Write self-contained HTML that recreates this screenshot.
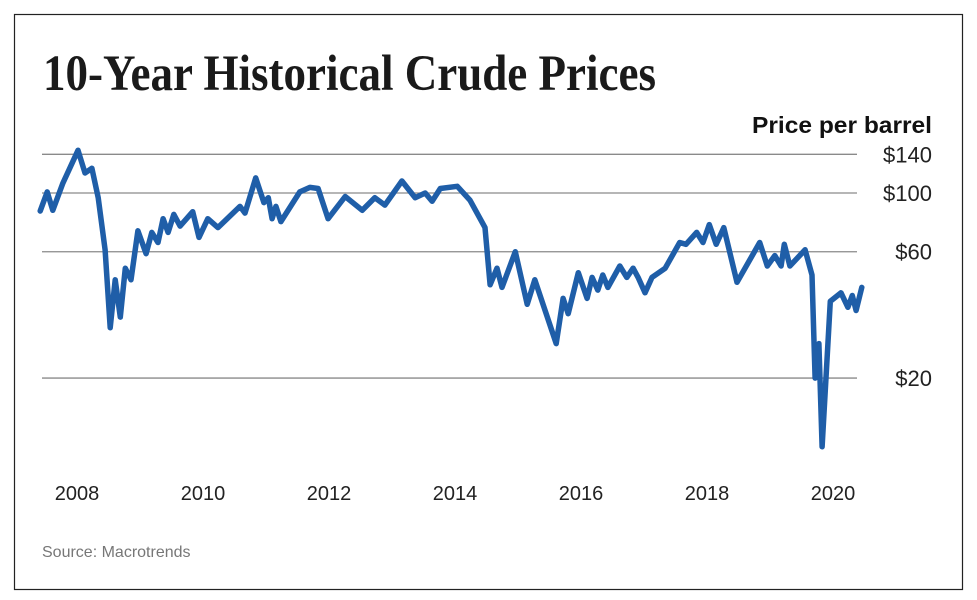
<!DOCTYPE html>
<html><head><meta charset="utf-8"><style>
html,body{margin:0;padding:0;background:#fff;}
svg{display:block;}
text{font-family:"Liberation Sans",sans-serif;}
</style></head><body>
<svg id="chart" width="977" height="600" viewBox="0 0 977 600">
<rect x="14.5" y="14.5" width="948" height="575" fill="#fff" stroke="#222" stroke-width="1.2"/>
<text x="43" y="90" font-weight="bold" font-size="51" fill="#1a1a1a" textLength="613" lengthAdjust="spacingAndGlyphs" style="font-family:'Liberation Serif',serif">10-Year Historical Crude Prices</text>
<text x="932" y="133" text-anchor="end" font-weight="bold" font-size="23" fill="#111" textLength="180" lengthAdjust="spacingAndGlyphs">Price per barrel</text>
<g id="grid"></g>
<g id="xlabels"></g>
<path id="line" fill="none" stroke="#1f5ea8" stroke-width="5.5" stroke-linejoin="round" stroke-linecap="round"/>
<text x="42" y="557" font-size="16" fill="#777">Source: Macrotrends</text>
</svg>
<script>
const yTicks = [140, 100, 60, 20];
const yTickLabels = ["$140", "$100", "$60", "$20"];
const xTicks = [2008, 2010, 2012, 2014, 2016, 2018, 2020];
const years = [2007.48,2007.59,2007.68,2007.84,2008.08,2008.19,2008.30,2008.40,2008.51,2008.59,2008.67,2008.75,2008.83,2008.92,2009.03,2009.16,2009.25,2009.35,2009.43,2009.51,2009.60,2009.70,2009.90,2010.00,2010.14,2010.30,2010.65,2010.73,2010.90,2011.03,2011.10,2011.16,2011.22,2011.30,2011.60,2011.76,2011.89,2012.05,2012.32,2012.59,2012.79,2012.95,2013.22,2013.43,2013.59,2013.70,2013.83,2014.10,2014.30,2014.54,2014.62,2014.73,2014.81,2015.02,2015.21,2015.33,2015.67,2015.78,2015.86,2016.02,2016.16,2016.24,2016.33,2016.41,2016.49,2016.68,2016.79,2016.89,2016.97,2017.08,2017.19,2017.40,2017.63,2017.73,2017.90,2018.00,2018.10,2018.21,2018.33,2018.54,2018.90,2019.02,2019.14,2019.24,2019.29,2019.38,2019.62,2019.73,2019.78,2019.84,2019.89,2020.02,2020.19,2020.30,2020.37,2020.43,2020.52];
const prices = [85.5,101,86,109,145,119,124,96,61,31,47,34,52,47,72,59,71,65,80,71,83,75,85,68,80,74,89,84,114,92,96,80,89,78,101,105,104,80,97,86,96,90,111,96,100,93,104,106,94,74,45,52,44,60,38,47,27,40,35,50,40,48,43,49,44,53,48,52,48,42,48,52,65,64,71,65,76,64,74,46,65,53,58,53,64,53,61,49,20,27,11,39,42,37,41,36,44];
const NS = "http://www.w3.org/2000/svg";
function xScale(t){ return 73 + (t - 2008) * 63; }
function yScale(v){ return 193 + (Math.log(100) - Math.log(v)) * 115; }
const grid = document.getElementById('grid');
yTicks.forEach((v, i) => {
  const y = yScale(v);
  const l = document.createElementNS(NS, 'line');
  l.setAttribute('x1', 42); l.setAttribute('x2', 857);
  l.setAttribute('y1', y); l.setAttribute('y2', y);
  l.setAttribute('stroke', '#8a8a8a'); l.setAttribute('stroke-width', '1.3');
  
  
  grid.appendChild(l);
  const t = document.createElementNS(NS, 'text');
  t.setAttribute('x', 932); t.setAttribute('y', y + 8);
  t.setAttribute('text-anchor', 'end');
  t.setAttribute('font-size', '22'); t.setAttribute('fill', '#222');
  t.textContent = yTickLabels[i];
  
  
  grid.appendChild(t);
});
const xl = document.getElementById('xlabels');
xTicks.forEach(yr => {
  const t = document.createElementNS(NS, 'text');
  t.setAttribute('x', xScale(yr) + 4); t.setAttribute('y', 500);
  t.setAttribute('text-anchor', 'middle');
  t.setAttribute('font-size', '20'); t.setAttribute('fill', '#222');
  t.textContent = String(yr);
  
  
  xl.appendChild(t);
});
let d = '';
years.forEach((t, i) => { d += (i ? 'L' : 'M') + xScale(t).toFixed(1) + ',' + yScale(prices[i]).toFixed(1); });
document.getElementById('line').setAttribute('d', d);
</script>
</body></html>
